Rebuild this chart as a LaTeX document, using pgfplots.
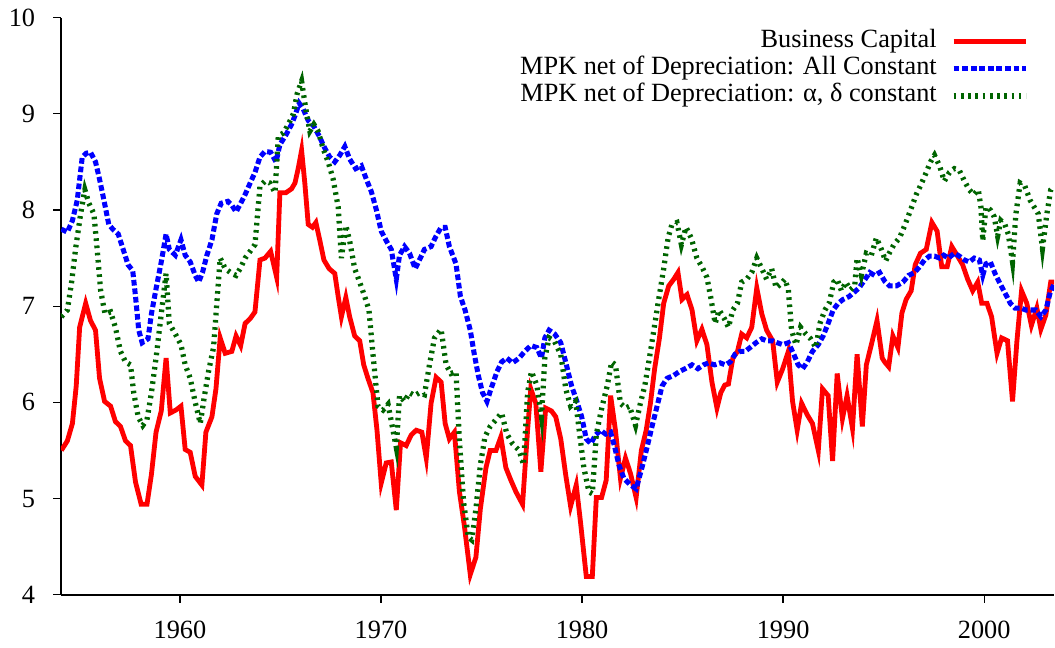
\documentclass[border=0pt]{standalone}
\usepackage{fontspec}
\setmainfont{Liberation Serif}
\usepackage{pgfplots}
\pgfplotsset{compat=1.18}
\definecolor{dgreen}{RGB}{0,100,0}
\begin{document}
\fontsize{12}{14}\selectfont
\begin{tikzpicture}
\begin{axis}[
 scale only axis, width=453pt, height=263.2pt,
 xmin=1954.08, xmax=2003.48, ymin=4, ymax=10,
 axis lines*=left, axis line style={-, line width=0.8pt},
 tick align=outside, major tick length=3.6pt, tick style={line width=0.6pt, black},
 xtick={1960,1970,1980,1990,2000}, ytick={4,5,6,7,8,9,10},
 /pgf/number format/1000 sep={},
 /pgf/number format/assume math mode=true,
 ticklabel style={font=\fontsize{12}{14}\selectfont},
 yticklabel style={xshift=-4pt},
 xticklabel style={yshift=-4pt},
 legend plot pos=right, legend cell align=right,
 legend style={at={(1,1)}, xshift=-11.4pt, yshift=-4.3pt, anchor=north east, draw=none, fill=none, inner sep=0pt, row sep=0pt, column sep=6.3pt, nodes={inner sep=0.25pt, text height=8.7pt, text depth=3.3pt}, font=\fontsize{12}{14}\selectfont},
 legend image code/.code={\draw[#1] (0pt,0pt) -- (33pt,0pt);},
]
\addplot[color=red, line width=2.2pt] coordinates {
(1954.1,5.50)(1954.40,5.60)(1954.65,5.78)(1954.84,6.17)(1955.01,6.78)(1955.31,7.03)(1955.55,6.85)(1955.80,6.75)
(1956.00,6.25)(1956.25,6.01)(1956.55,5.96)(1956.79,5.80)(1957.04,5.75)(1957.29,5.60)(1957.54,5.55)(1957.79,5.17)
(1958.07,4.94)(1958.36,4.94)(1958.58,5.25)(1958.81,5.69)(1959.07,5.91)(1959.31,6.46)(1959.52,5.89)(1959.80,5.92)
(1960.05,5.96)(1960.26,5.51)(1960.51,5.48)(1960.76,5.23)(1961.09,5.14)(1961.29,5.69)(1961.59,5.85)(1961.79,6.14)
(1962.00,6.67)(1962.25,6.51)(1962.58,6.53)(1962.79,6.69)(1963.02,6.59)(1963.24,6.82)(1963.49,6.87)(1963.73,6.94)
(1963.98,7.48)(1964.23,7.50)(1964.51,7.57)(1964.81,7.30)(1964.97,8.18)(1965.27,8.18)(1965.55,8.22)(1965.72,8.28)
(1965.88,8.43)(1966.05,8.62)(1966.21,8.28)(1966.38,7.85)(1966.59,7.82)(1966.76,7.87)(1966.96,7.68)(1967.16,7.48)
(1967.42,7.39)(1967.70,7.34)(1967.87,7.10)(1968.03,6.89)(1968.25,7.09)(1968.44,6.89)(1968.69,6.69)(1968.94,6.64)
(1969.14,6.39)(1969.35,6.25)(1969.60,6.10)(1969.80,5.71)(1970.01,5.16)(1970.26,5.37)(1970.51,5.38)(1970.76,4.88)
(1970.97,5.58)(1971.25,5.55)(1971.50,5.66)(1971.75,5.71)(1972.03,5.69)(1972.25,5.42)(1972.49,5.99)(1972.74,6.26)
(1972.99,6.21)(1973.19,5.78)(1973.40,5.62)(1973.65,5.69)(1973.90,5.07)(1974.15,4.71)(1974.44,4.21)(1974.72,4.39)
(1974.94,4.89)(1975.22,5.32)(1975.43,5.50)(1975.72,5.50)(1975.96,5.64)(1976.21,5.32)(1976.46,5.19)(1976.71,5.07)
(1977.04,4.94)(1977.29,5.71)(1977.45,6.14)(1977.70,5.99)(1977.95,5.28)(1978.19,5.94)(1978.48,5.91)(1978.69,5.85)
(1978.94,5.62)(1979.19,5.24)(1979.43,4.92)(1979.71,5.14)(1979.93,4.74)(1980.21,4.19)(1980.51,4.19)(1980.71,5.01)
(1980.97,5.01)(1981.20,5.19)(1981.42,6.07)(1981.66,5.71)(1981.91,5.21)(1982.16,5.42)(1982.41,5.26)(1982.69,5.01)
(1982.95,5.50)(1983.19,5.71)(1983.40,5.99)(1983.61,6.35)(1983.85,6.67)(1984.06,7.03)(1984.31,7.21)(1984.56,7.28)
(1984.77,7.35)(1984.97,7.07)(1985.22,7.12)(1985.47,6.96)(1985.71,6.64)(1985.96,6.76)(1986.21,6.60)(1986.46,6.21)
(1986.71,5.94)(1986.90,6.10)(1987.10,6.18)(1987.28,6.19)(1987.50,6.46)(1987.73,6.53)(1987.94,6.71)(1988.19,6.67)
(1988.44,6.78)(1988.69,7.19)(1988.94,6.92)(1989.18,6.75)(1989.48,6.64)(1989.71,6.21)(1989.98,6.35)(1990.26,6.53)
(1990.47,6.01)(1990.70,5.71)(1990.92,5.99)(1991.20,5.87)(1991.46,5.78)(1991.75,5.50)(1991.96,6.14)(1992.24,6.07)
(1992.46,5.39)(1992.69,6.30)(1992.95,5.83)(1993.18,6.07)(1993.45,5.73)(1993.68,6.50)(1993.94,5.75)(1994.14,6.39)
(1994.39,6.60)(1994.67,6.85)(1994.93,6.46)(1995.05,6.42)(1995.25,6.37)(1995.46,6.69)(1995.71,6.57)(1995.91,6.93)
(1996.12,7.07)(1996.37,7.16)(1996.57,7.43)(1996.83,7.55)(1997.12,7.59)(1997.40,7.87)(1997.66,7.78)(1997.89,7.41)
(1998.16,7.41)(1998.39,7.62)(1998.65,7.53)(1998.93,7.43)(1999.18,7.28)(1999.43,7.16)(1999.68,7.25)(1999.88,7.03)
(2000.14,7.03)(2000.37,6.89)(2000.64,6.51)(2000.87,6.67)(2001.16,6.64)(2001.41,6.01)(2001.63,6.64)(2001.86,7.16)
(2002.12,7.03)(2002.35,6.80)(2002.62,6.98)(2002.82,6.76)(2003.07,6.91)(2003.31,7.25)(2003.48,7.25)
};
\addlegendentry{Business Capital}
\addplot[color=blue, line width=2.3pt, dash pattern=on 2.6pt off 1.3pt] coordinates {
(1954.1,7.80)(1954.40,7.77)(1954.65,7.89)(1954.89,8.10)(1955.14,8.55)(1955.34,8.59)(1955.55,8.60)(1955.80,8.50)
(1956.00,8.32)(1956.22,8.10)(1956.46,7.85)(1956.66,7.80)(1956.93,7.75)(1957.16,7.60)(1957.42,7.43)(1957.65,7.37)
(1957.79,7.10)(1957.95,6.75)(1958.12,6.62)(1958.41,6.66)(1958.58,6.92)(1958.81,7.18)(1959.07,7.46)(1959.31,7.75)
(1959.47,7.59)(1959.77,7.53)(1960.05,7.69)(1960.26,7.53)(1960.51,7.46)(1960.76,7.32)(1960.93,7.25)(1961.12,7.35)
(1961.34,7.53)(1961.59,7.69)(1961.83,7.96)(1962.05,8.07)(1962.38,8.09)(1962.58,8.05)(1962.79,7.98)(1963.02,8.07)
(1963.24,8.16)(1963.49,8.28)(1963.73,8.39)(1963.98,8.55)(1964.23,8.61)(1964.51,8.60)(1964.78,8.50)(1964.97,8.68)
(1965.27,8.78)(1965.55,8.89)(1965.72,8.98)(1965.93,9.11)(1966.13,9.05)(1966.38,8.93)(1966.66,8.87)(1966.92,8.77)
(1967.21,8.64)(1967.45,8.55)(1967.70,8.50)(1967.95,8.57)(1968.20,8.66)(1968.44,8.53)(1968.74,8.43)(1969.02,8.46)
(1969.27,8.32)(1969.52,8.19)(1969.77,8.00)(1970.01,7.78)(1970.26,7.68)(1970.51,7.59)(1970.76,7.28)(1970.92,7.53)
(1971.17,7.62)(1971.42,7.55)(1971.70,7.39)(1971.91,7.48)(1972.16,7.59)(1972.49,7.62)(1972.74,7.73)(1972.99,7.82)
(1973.19,7.82)(1973.40,7.62)(1973.73,7.44)(1973.95,7.10)(1974.18,6.96)(1974.44,6.75)(1974.64,6.50)(1974.84,6.28)
(1975.05,6.10)(1975.27,6.01)(1975.47,6.14)(1975.77,6.32)(1976.00,6.42)(1976.26,6.46)(1976.54,6.41)(1976.87,6.46)
(1977.15,6.53)(1977.45,6.59)(1977.75,6.57)(1977.98,6.46)(1978.15,6.67)(1978.36,6.75)(1978.64,6.71)(1978.94,6.62)
(1979.22,6.39)(1979.48,6.17)(1979.71,6.03)(1979.98,5.85)(1980.21,5.62)(1980.43,5.57)(1980.67,5.66)(1980.92,5.71)
(1981.17,5.67)(1981.42,5.69)(1981.63,5.53)(1981.83,5.35)(1982.08,5.21)(1982.36,5.15)(1982.69,5.10)(1982.99,5.33)
(1983.23,5.53)(1983.48,5.75)(1983.73,5.96)(1983.98,6.17)(1984.23,6.25)(1984.56,6.28)(1984.84,6.32)(1985.13,6.35)
(1985.47,6.39)(1985.76,6.35)(1986.04,6.39)(1986.29,6.41)(1986.59,6.39)(1986.87,6.41)(1987.12,6.39)(1987.37,6.42)
(1987.61,6.50)(1987.86,6.53)(1988.11,6.53)(1988.36,6.57)(1988.65,6.62)(1988.94,6.66)(1989.18,6.64)(1989.48,6.64)
(1989.71,6.62)(1989.98,6.60)(1990.26,6.62)(1990.51,6.51)(1990.75,6.39)(1990.97,6.35)(1991.20,6.42)(1991.46,6.53)
(1991.75,6.60)(1991.99,6.69)(1992.24,6.82)(1992.49,6.96)(1992.74,7.03)(1992.98,7.07)(1993.28,7.10)(1993.51,7.14)
(1993.78,7.19)(1994.01,7.26)(1994.31,7.35)(1994.55,7.32)(1994.80,7.35)(1995.05,7.26)(1995.30,7.21)(1995.63,7.21)
(1995.96,7.25)(1996.24,7.32)(1996.54,7.35)(1996.79,7.41)(1997.03,7.48)(1997.28,7.52)(1997.53,7.52)(1997.78,7.50)
(1997.99,7.53)(1998.22,7.50)(1998.52,7.55)(1998.77,7.52)(1999.02,7.48)(1999.26,7.46)(1999.51,7.50)(1999.76,7.48)
(1999.93,7.32)(2000.09,7.44)(2000.31,7.46)(2000.54,7.34)(2000.80,7.23)(2001.03,7.14)(2001.30,7.03)(2001.53,6.98)
(2001.83,6.98)(2002.07,6.96)(2002.32,6.96)(2002.57,6.96)(2002.82,6.89)(2003.07,6.96)(2003.28,7.14)(2003.48,7.23)
};
\addlegendentry{MPK net of Depreciation: All Constant}
\addplot[color=dgreen, line width=2.4pt, dash pattern=on 1.2pt off 2.1pt] coordinates {
(1954.1,6.89)(1954.40,6.96)(1954.61,7.25)(1954.81,7.60)(1955.06,7.96)(1955.27,8.21)(1955.47,8.07)(1955.72,7.96)
(1955.89,7.57)(1956.05,7.17)(1956.27,6.92)(1956.55,6.94)(1956.79,6.78)(1957.04,6.53)(1957.29,6.42)(1957.54,6.39)
(1957.70,6.10)(1957.92,5.85)(1958.15,5.76)(1958.36,5.82)(1958.58,6.10)(1958.81,6.46)(1959.07,6.92)(1959.31,7.34)
(1959.47,6.82)(1959.77,6.71)(1960.05,6.60)(1960.26,6.39)(1960.51,6.25)(1960.76,6.00)(1961.01,5.78)(1961.22,6.07)
(1961.42,6.32)(1961.67,6.57)(1962.00,7.50)(1962.25,7.39)(1962.58,7.34)(1962.79,7.32)(1963.02,7.40)(1963.24,7.50)
(1963.49,7.57)(1963.73,7.64)(1963.98,8.25)(1964.23,8.30)(1964.48,8.28)(1964.73,8.18)(1964.89,8.77)(1965.14,8.80)
(1965.39,8.89)(1965.64,9.00)(1965.83,9.21)(1966.05,9.34)(1966.26,9.05)(1966.46,8.82)(1966.66,8.89)(1966.87,8.82)
(1967.12,8.64)(1967.37,8.50)(1967.62,8.32)(1967.87,8.03)(1968.03,7.50)(1968.25,7.84)(1968.44,7.68)(1968.69,7.39)
(1968.94,7.25)(1969.19,7.10)(1969.40,6.96)(1969.60,6.50)(1969.85,5.96)(1970.10,5.92)(1970.35,5.98)(1970.56,5.75)
(1970.76,5.53)(1970.92,6.07)(1971.17,6.01)(1971.42,6.10)(1971.67,6.07)(1971.91,6.10)(1972.16,6.08)(1972.41,6.39)
(1972.66,6.67)(1972.99,6.76)(1973.24,6.39)(1973.48,6.30)(1973.73,6.32)(1973.90,5.60)(1974.11,4.96)(1974.34,4.60)
(1974.51,4.57)(1974.72,4.89)(1974.94,5.35)(1975.17,5.64)(1975.43,5.75)(1975.72,5.82)(1976.00,5.89)(1976.26,5.67)
(1976.54,5.57)(1976.87,5.50)(1977.09,5.35)(1977.29,6.10)(1977.48,6.32)(1977.75,6.18)(1977.98,5.85)(1978.15,6.46)
(1978.36,6.67)(1978.61,6.64)(1978.94,6.50)(1979.19,6.14)(1979.43,5.96)(1979.68,6.01)(1979.88,5.67)(1980.09,5.32)
(1980.34,5.07)(1980.51,5.05)(1980.71,5.67)(1981.00,5.96)(1981.25,6.17)(1981.47,6.42)(1981.66,6.39)(1981.91,5.99)
(1982.16,5.94)(1982.36,5.96)(1982.66,5.76)(1982.90,5.99)(1983.12,6.17)(1983.35,6.46)(1983.57,6.75)(1983.81,7.07)
(1984.06,7.39)(1984.28,7.71)(1984.47,7.85)(1984.72,7.87)(1984.94,7.64)(1985.17,7.82)(1985.43,7.71)(1985.71,7.50)
(1985.96,7.41)(1986.21,7.30)(1986.42,7.07)(1986.62,6.82)(1986.82,6.96)(1987.08,6.87)(1987.28,6.78)(1987.50,6.96)
(1987.73,7.03)(1987.94,7.25)(1988.19,7.28)(1988.44,7.35)(1988.69,7.50)(1988.94,7.39)(1989.18,7.28)(1989.43,7.39)
(1989.65,7.19)(1989.88,7.23)(1990.09,7.28)(1990.26,7.17)(1990.42,6.75)(1990.64,6.60)(1990.87,6.78)(1991.13,6.71)
(1991.37,6.66)(1991.63,6.57)(1991.83,6.82)(1992.08,6.96)(1992.29,7.03)(1992.52,7.25)(1992.69,7.28)(1992.90,7.16)
(1993.12,7.25)(1993.35,7.17)(1993.56,7.21)(1993.68,7.50)(1993.89,7.32)(1994.14,7.55)(1994.39,7.53)(1994.64,7.71)
(1994.89,7.59)(1995.10,7.47)(1995.30,7.56)(1995.51,7.64)(1995.79,7.71)(1996.07,7.85)(1996.34,8.00)(1996.62,8.16)
(1996.87,8.27)(1997.12,8.39)(1997.33,8.50)(1997.53,8.57)(1997.78,8.46)(1998.02,8.30)(1998.27,8.39)(1998.52,8.43)
(1998.77,8.41)(1999.02,8.30)(1999.26,8.21)(1999.48,8.16)(1999.71,8.21)(1999.84,8.03)(1999.93,7.68)(2000.09,8.03)
(2000.31,8.00)(2000.50,7.93)(2000.67,7.73)(2000.83,7.89)(2001.03,7.85)(2001.20,7.75)(2001.41,7.46)(2001.58,7.96)
(2001.79,8.28)(2002.02,8.25)(2002.29,8.10)(2002.49,8.03)(2002.69,7.96)(2002.90,7.60)(2003.12,7.96)(2003.31,8.21)
(2003.48,8.25)
};
\addlegendentry{MPK net of Depreciation: α, δ constant}
\end{axis}
\end{tikzpicture}
\end{document}
